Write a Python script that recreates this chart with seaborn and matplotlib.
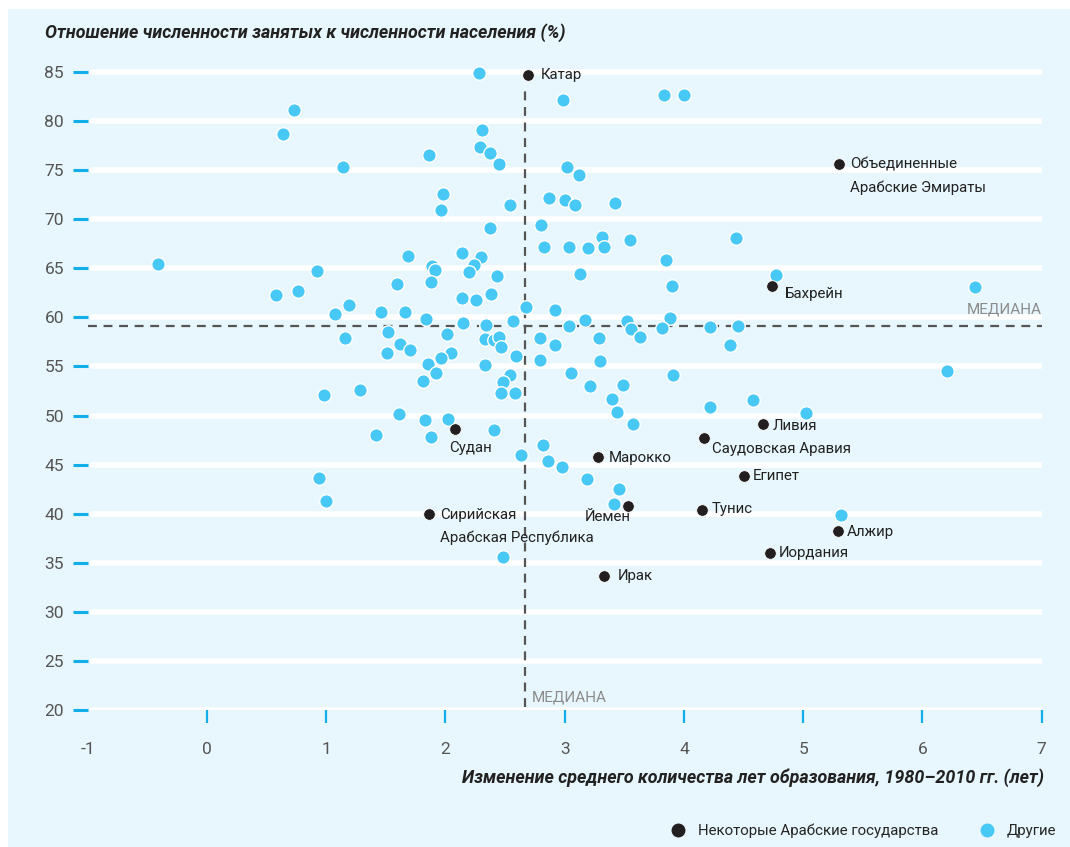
import matplotlib
matplotlib.use("Agg")
import matplotlib.pyplot as plt
import seaborn as sns
import pandas as pd
from matplotlib.patches import Rectangle
from matplotlib.lines import Line2D

# ---------------- data ----------------
other_x = [-0.41, 0.64, 0.73, 1.14, 0.58, 0.76, 0.92, 1.07, 1.19, 1.16, 1.46, 1.52, 1.51, 1.59, 1.62,
           1.66, 1.69, 1.70, 1.86, 1.98, 1.96, 1.89, 1.91, 1.875, 1.84, 2.01, 2.05, 1.96, 1.85, 1.92,
           1.81, 2.28, 2.31, 2.29, 2.375, 2.45, 2.545, 2.375, 2.14, 2.30, 2.24, 2.20, 2.43, 2.14, 2.26,
           2.38, 2.15, 2.34, 2.33, 2.41, 2.45, 2.47, 2.57, 2.68, 2.59, 2.33, 2.54, 2.48, 2.47, 2.58,
           2.80, 2.83, 2.87, 2.92, 2.79, 2.92, 2.79, 2.99, 3.83, 4.00, 3.02, 3.12, 3.00, 3.09, 3.42,
           3.04, 3.20, 3.31, 3.33, 3.55, 4.44, 3.85, 3.13, 4.77, 3.90, 6.44, 3.04, 3.17, 3.52, 3.56,
           3.88, 3.82, 4.22, 4.45, 3.29, 3.63, 4.39, 3.30, 3.05, 3.91, 6.21, 3.21, 3.49, 3.40, 3.44,
           3.57, 4.22, 4.58, 5.02, 2.82, 2.86, 2.98, 2.63, 3.19, 3.46, 3.41, 5.32, 2.48, 0.985, 1.28,
           1.61, 1.42, 1.83, 1.875, 2.02, 2.41, 0.94, 1.00]
other_y = [65.4, 78.7, 81.1, 75.3, 62.3, 62.7, 64.7, 60.3, 61.3, 57.9, 60.5, 58.5, 56.4, 63.4, 57.25,
           60.5, 66.3, 56.7, 76.5, 72.6, 70.9, 65.2, 64.8, 63.6, 59.8, 58.3, 56.4, 55.9, 55.3, 54.3,
           53.55, 84.9, 79.1, 77.4, 76.8, 75.6, 71.5, 69.1, 66.6, 66.2, 65.3, 64.65, 64.2, 62.0, 61.8,
           62.4, 59.4, 59.2, 57.8, 57.7, 58.0, 57.0, 59.6, 61.1, 56.1, 55.2, 54.1, 53.4, 52.3, 52.3,
           69.4, 67.15, 72.2, 60.8, 57.95, 57.2, 55.7, 82.1, 82.7, 82.7, 75.3, 74.5, 72.0, 71.5, 71.7,
           67.15, 67.1, 68.2, 67.15, 67.9, 68.1, 65.85, 64.4, 64.35, 63.2, 63.1, 59.1, 59.7, 59.66, 58.85,
           59.97, 58.9, 59.0, 59.1, 57.9, 57.97, 57.15, 55.6, 54.3, 54.1, 54.57, 53.0, 53.1, 51.7, 50.4,
           49.1, 50.9, 51.6, 50.3, 46.96, 45.4, 44.8, 46.0, 43.5, 42.55, 40.96, 39.9, 35.55, 52.1, 52.6,
           50.2, 48.0, 49.5, 47.8, 49.6, 48.5, 43.6, 41.3]

arab_names = ["Катар", "Объединенные\nАрабские Эмираты", "Бахрейн", "Ливия", "Саудовская Аравия",
              "Судан", "Марокко", "Египет", "Тунис", "Йемен", "Сирийская\nАрабская Республика",
              "Алжир", "Иордания", "Ирак"]
arab_x = [2.69, 5.30, 4.74, 4.66, 4.17, 2.08, 3.28, 4.50, 4.15, 3.53, 1.86, 5.29, 4.72, 3.33]
arab_y = [84.7, 75.6, 63.2, 49.1, 47.7, 48.6, 45.8, 43.8, 40.4, 40.8, 40.0, 38.2, 36.0, 33.7]

median_x = 2.67
median_y = 59.1

x_ticks = [-1, 0, 1, 2, 3, 4, 5, 6, 7]
y_ticks = [20, 25, 30, 35, 40, 45, 50, 55, 60, 65, 70, 75, 80, 85]

y_title = "Отношение численности занятых к численности населения (%)"
x_title = "Изменение среднего количества лет образования, 1980–2010 гг. (лет)"
label_arab = "Некоторые Арабские государства"
label_other = "Другие"
median_label = "МЕДИАНА"

# ---------------- style ----------------
BG = "#E8F6FD"
BLUE = "#48C8F4"
BLACK = "#231F20"
TICKBLUE = "#12AEEA"
GREY = "#8C8C8C"
FONT = ["Roboto", "DejaVu Sans"]

sns.set_theme(style="white")
plt.rcParams["font.family"] = FONT

W, H = 1070, 847
fig = plt.figure(figsize=(W / 100, H / 100), dpi=100, facecolor="white")
fig.patches.append(Rectangle((8 / W, 0), 1 - 8 / W, 1 - 9 / H, transform=fig.transFigure,
                             facecolor=BG, edgecolor="none", zorder=-10))

ax = fig.add_axes([87.7 / W, 137 / H, (1041.6 - 87.7) / W, (9.815 * 66.5) / H])
ax.set_zorder(1)
ax.set_facecolor("none")
ax.set_xlim(-1, 7)
ax.set_ylim(20, 86.5)
for s in ax.spines.values():
    s.set_visible(False)

# gridlines
for yv in y_ticks:
    ax.axhline(yv, color="white", lw=4, zorder=1, xmin=0.004, xmax=1.003)

# medians
ax.axhline(median_y, color="#555555", lw=1.6, ls=(0, (4, 3)), zorder=2)
ax.plot([median_x, median_x], [20.3, 83.6], color="#555555", lw=1.6, ls=(0, (4, 3)), zorder=2)

df_o = pd.DataFrame({"x": other_x, "y": other_y})
df_a = pd.DataFrame({"x": arab_x, "y": arab_y})
sns.scatterplot(data=df_o, x="x", y="y", ax=ax, color=BLUE, s=95, edgecolor="white",
                linewidth=1.0, zorder=3, legend=False)
sns.scatterplot(data=df_a, x="x", y="y", ax=ax, color=BLACK, s=70, edgecolor="white",
                linewidth=0.6, zorder=4, legend=False)

ax.set_xlabel("")
ax.set_ylabel("")
ax.set_xticks(x_ticks)
ax.set_yticks(y_ticks)
ax.set_xticklabels([str(v) for v in x_ticks])
ax.set_yticklabels([str(v) for v in y_ticks])
ax.tick_params(axis="y", length=11, width=2.2, color=TICKBLUE, direction="out",
               labelsize=12.5, labelcolor="#555555", pad=6, left=True)
ax.tick_params(axis="x", length=9, width=1.6, color=TICKBLUE, direction="out",
               labelsize=12.5, labelcolor="#555555", pad=14, bottom=True)
ax.xaxis.get_major_ticks()[0].tick1line.set_visible(False)

# annotations: (dx, dy) in pixels for the first line's centre, dy positive downward
offsets = {
    "Катар": (13, 0, "left"),
    "Объединенные\nАрабские Эмираты": (11, 0, "left"),
    "Бахрейн": (13, 8, "left"),
    "Ливия": (10, 2, "left"),
    "Саудовская Аравия": (8, 11, "left"),
    "Судан": (-6, 19, "left"),
    "Марокко": (11, 1, "left"),
    "Египет": (9, 0, "left"),
    "Тунис": (10, -1, "left"),
    "Йемен": (3, 11, "right"),
    "Сирийская\nАрабская Республика": (11, 1, "left"),
    "Алжир": (9, 1, "left"),
    "Иордания": (9, 0, "left"),
    "Ирак": (14, 0, "left"),
}
LINE_STEP = 23  # px between lines of a two-line label
for name, xv, yv in zip(arab_names, arab_x, arab_y):
    dx, dy, ha = offsets[name]
    for i, line in enumerate(name.split("\n")):
        ax.annotate(line, (xv, yv), xytext=(dx * 0.72, -(dy + i * LINE_STEP) * 0.72),
                    textcoords="offset points", ha=ha, va="center", fontsize=10.8,
                    color="#222222", zorder=5)

# median labels
ax.annotate(median_label, (7, median_y), xytext=(0, 12), textcoords="offset points",
            ha="right", va="center", fontsize=11, color=GREY)
ax.annotate(median_label, (median_x, 20), xytext=(5, 9), textcoords="offset points",
            ha="left", va="center", fontsize=11, color=GREY)

# titles
fig.text(45 / W, 1 - 33 / H, y_title, ha="left", va="center", fontsize=12.9,
         fontweight="bold", fontstyle="italic", color="#222222")
fig.text(1044 / W, 1 - 778 / H, x_title, ha="right", va="center", fontsize=12.9,
         fontweight="bold", fontstyle="italic", color="#222222")

# legend
handles = [Line2D([], [], marker="o", ls="none", color=BLACK, markersize=9, label=label_arab),
           Line2D([], [], marker="o", ls="none", color=BLUE, markersize=9, label=label_other)]
fig.legend(handles=handles, loc="center right", bbox_to_anchor=(1070 / W, 1 - 831 / H),
           ncol=2, frameon=False, fontsize=10.8, handletextpad=0.85, columnspacing=2.7,
           handlelength=1.0)

fig.savefig("out.png", dpi=100, facecolor="white")
